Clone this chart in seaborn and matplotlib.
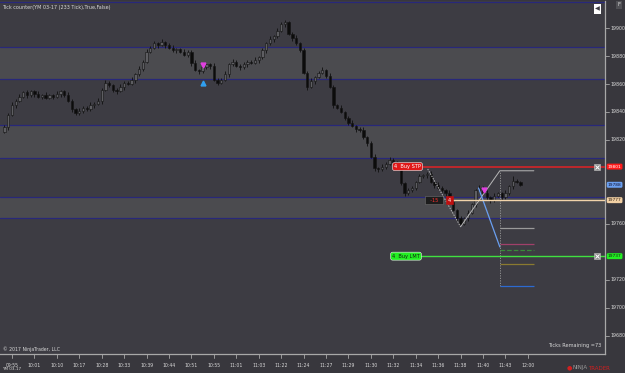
import numpy as np
import pandas as pd
import matplotlib
matplotlib.use("Agg")
import matplotlib.pyplot as plt
import seaborn as sns
from matplotlib.transforms import blended_transform_factory
from matplotlib.patches import Rectangle

# ---------------- data ----------------
closes = [
    19829, 19838, 19845, 19848, 19851, 19854, 19852, 19855, 19853, 19851,
    19852, 19850, 19852, 19851, 19853, 19855, 19852, 19848, 19842, 19839,
    19841, 19843, 19842, 19845, 19846, 19848, 19856, 19861, 19859, 19856,
    19855, 19858, 19861, 19860, 19863, 19867, 19871, 19876, 19883, 19886,
    19889, 19888, 19890, 19888, 19886, 19884, 19885, 19883, 19881, 19883,
    19875, 19870, 19869, 19872, 19874, 19873, 19863, 19861, 19863, 19867,
    19874, 19876, 19873, 19872, 19874, 19876, 19875, 19877, 19879, 19884,
    19889, 19892, 19894, 19898, 19903, 19904, 19896, 19893, 19889, 19884,
    19868, 19858, 19862, 19865, 19868, 19870, 19866, 19858, 19845, 19843,
    19840, 19836, 19832, 19830, 19828, 19827, 19822, 19818, 19808, 19800,
    19799, 19801, 19803, 19806, 19804, 19801, 19789, 19782, 19784, 19786,
    19790, 19794, 19795, 19796, 19790, 19788, 19786, 19784, 19782, 19776,
    19770, 19764, 19760, 19764, 19768, 19774, 19784, 19786, 19782, 19779,
    19777, 19780, 19782, 19779, 19782, 19787, 19791, 19790, 19788,
]
first_open = 19826
upper_wick = [
    2, 1, 2, 1, 2, 1, 2, 1, 1, 2, 1, 2, 1, 1, 2, 1, 1, 2, 1, 1,
    2, 1, 1, 2, 1, 2, 1, 2, 1, 1, 1, 2, 1, 1, 2, 1, 2, 1, 2, 1,
    2, 1, 2, 1, 1, 2, 1, 1, 2, 1, 1, 2, 1, 2, 1, 1, 2, 1, 1, 2,
    1, 2, 1, 1, 2, 1, 1, 2, 1, 2, 1, 2, 1, 2, 1, 2, 1, 1, 2, 1,
    2, 1, 2, 1, 1, 2, 1, 2, 1, 1, 2, 1, 1, 2, 1, 1, 2, 1, 1, 2,
    1, 2, 1, 2, 1, 1, 2, 1, 2, 1, 1, 2, 1, 1, 2, 1, 2, 1, 1, 2,
    1, 1, 2, 1, 2, 1, 1, 2, 1, 2, 1, 2, 1, 1, 2, 1, 3, 1, 1,
]
lower_wick = [
    1, 2, 1, 2, 1, 1, 2, 1, 2, 1, 2, 1, 1, 2, 1, 2, 1, 1, 2, 1,
    1, 2, 1, 1, 2, 1, 2, 1, 1, 2, 2, 1, 2, 1, 1, 2, 1, 2, 1, 1,
    1, 2, 1, 2, 1, 1, 2, 1, 1, 2, 2, 1, 2, 1, 1, 2, 1, 2, 1, 1,
    2, 1, 1, 2, 1, 2, 1, 1, 2, 1, 2, 1, 2, 1, 1, 2, 1, 2, 1, 1,
    1, 2, 1, 2, 1, 1, 2, 1, 2, 1, 1, 2, 1, 1, 2, 1, 1, 2, 1, 2,
    2, 1, 2, 1, 1, 2, 1, 2, 1, 1, 2, 1, 1, 2, 1, 2, 1, 1, 2, 1,
    1, 2, 1, 1, 2, 1, 2, 1, 1, 2, 2, 1, 1, 2, 1, 1, 2, 1, 1,
]
time_labels = ["09:55", "10:01", "10:10", "10:17", "10:28", "10:33", "10:39", "10:44",
               "10:51", "10:55", "11:01", "11:03", "11:22", "11:24", "11:27", "11:29",
               "11:30", "11:32", "11:34", "11:36", "11:38", "11:40", "11:43", "12:00"]
price_ticks = [19900, 19880, 19860, 19840, 19820, 19760, 19720, 19700, 19680]
band_levels = [(19863.6, 19886.4), (19807.1, 19830.7), (19764.3, 19779.3)]
line_levels = [19918.6, 19886.4, 19863.6, 19830.7, 19807.1, 19779.3, 19764.3]
stop_price = 19801
limit_price = 19737
entry_price = 19777
last_price = 19788
position_pnl = "-15"
position_qty = "4"
zigzag_x = [113.2, 122.0, 132.5, 141.6]
zigzag_y = [19799.3, 19758.0, 19798.0, 19798.0]
fib_levels = [19757.1, 19745.7, 19741.4, 19731.4, 19715.7]
fib_colors = ["#9a9a9a", "#a0406a", "#3a8a3a", "#8a7a30", "#2d6ad0"]
fib_styles = ["-", "-", "--", "-", "-"]
proj_x = [126.8, 132.5]
proj_y = [19785.7, 19743.6]
signal_down = [(53.2, 19873.5), (128.2, 19784.0)]
signal_up = [(53.2, 19860.5)]

# ---------------- style ----------------
W, H = 625, 373
BG = "#3d3c43"
FIGBG = "#38373d"
BAND = "#4b4b4f"
NAVY = "#28287a"
TXT = "#d8d8d8"

sns.set_theme(style="dark", rc={"axes.facecolor": BG, "figure.facecolor": FIGBG})
plt.rcParams["font.family"] = ["DejaVu Sans"]

fig = plt.figure(figsize=(W / 100, H / 100), dpi=100)
ax = fig.add_axes([0, (H - 354) / H, 605 / W, 353 / H])
ax.set_facecolor(BG)

n = len(closes)
opens = [first_open] + closes[:-1]
df = pd.DataFrame({"bar": np.arange(n), "open": opens, "close": closes})
df["high"] = df[["open", "close"]].max(axis=1) + np.array(upper_wick)
df["low"] = df[["open", "close"]].min(axis=1) - np.array(lower_wick)
df["up"] = df["close"] >= df["open"]

# axis limits (pixel mapping: bar i at x = 4.5 + 3.738 i)
px_per_bar = 22.43 / 6
ax.set_xlim(-4.5 / px_per_bar, (605 - 4.5) / px_per_bar)
ax.set_ylim(19667.1, 19919.3)

# bands and level lines
for lo, hi in band_levels:
    ax.axhspan(lo, hi, color=BAND, lw=0, zorder=0)
for lv in line_levels:
    ax.axhline(lv, color=NAVY, lw=0.9, zorder=1)

# candles
ax.vlines(df["bar"], df["low"], df["high"], color="#101010", lw=0.6, zorder=3)
body_bottom = df[["open", "close"]].min(axis=1)
body_h = (df["close"] - df["open"]).abs().clip(lower=0.5)
cols = np.where(df["up"], "#5e5e62", "#0c0c0c")
ax.bar(df["bar"], body_h, bottom=body_bottom, width=0.62, color=cols,
       edgecolor="#141414", linewidth=0.4, zorder=4)

# drawing tools (zigzag / fib)
zz = pd.DataFrame({"x": zigzag_x, "y": zigzag_y})
ax.plot(zz["x"][:2], zz["y"][:2], color="#b8b8b8", lw=0.7, ls=(0, (1.5, 1.2)), zorder=5)
sns.lineplot(data=zz.iloc[1:], x="x", y="y", sort=False, color="#b8b8b8", lw=0.7, ax=ax, zorder=5)
ax.vlines(zigzag_x[2], fib_levels[-1], zigzag_y[2], color="#9a9a9a", lw=0.6,
          linestyles=(0, (1.5, 1.5)), zorder=5)
for lv, c, s in zip(fib_levels, fib_colors, fib_styles):
    ax.hlines(lv, zigzag_x[2], zigzag_x[3], color=c, lw=0.9, linestyles=s, zorder=5)
pj = pd.DataFrame({"x": proj_x, "y": proj_y})
sns.lineplot(data=pj, x="x", y="y", sort=False, color="#6a9ff0", lw=0.9, ax=ax, zorder=6)

# signal arrows
for x, y in signal_down:
    ax.plot(x, y, marker="v", color="#e040e0", ms=3.5, zorder=7)
for x, y in signal_up:
    ax.plot(x, y, marker="^", color="#30a0f0", ms=3.5, zorder=7)

ax.set_xlabel("")
ax.set_ylabel("")

# order lines
def bar_of(px):
    return (px - 4.5) / px_per_bar

ax.hlines(stop_price, bar_of(419), bar_of(605), color="#c8262a", lw=1.3, zorder=6)
ax.hlines(limit_price, bar_of(419), bar_of(605), color="#40e040", lw=1.0, zorder=6)
ax.hlines(entry_price, bar_of(452), bar_of(605), color="#f2d4aa", lw=1.0, zorder=6)

ax.text(bar_of(407.5), stop_price, "4  Buy STP", color="white", fontsize=3.6, ha="center",
        va="center", zorder=9,
        bbox=dict(boxstyle="round,pad=0.3,rounding_size=0.4", fc="#e01818", ec="#f0f0f0", lw=0.4))
ax.text(bar_of(406), limit_price, "4  Buy LMT", color="#102010", fontsize=3.6, ha="center",
        va="center", zorder=9,
        bbox=dict(boxstyle="round,pad=0.3,rounding_size=0.4", fc="#22ee22", ec="#f0f0f0", lw=0.4))
ax.text(bar_of(434), entry_price, "  " + position_pnl + "  ", color="#ff3030", fontsize=3.6,
        ha="center", va="center", zorder=9,
        bbox=dict(boxstyle="square,pad=0.35", fc="#1c1c1c", ec="#707070", lw=0.4))
ax.text(bar_of(449.5), entry_price, position_qty, color="white", fontsize=3.6, ha="center",
        va="center", zorder=10,
        bbox=dict(boxstyle="square,pad=0.35", fc="#c01010", ec="#c01010", lw=0.4))

# close buttons
for p in (stop_price, limit_price):
    ax.plot(bar_of(597.5), p, marker="s", ms=5, mfc="#8a8a8a", mec="#d0d0d0", mew=0.4, zorder=9,
            clip_on=False)
    ax.plot(bar_of(597.5), p, marker="x", ms=3, mec="white", mew=0.7, zorder=10, clip_on=False)

# axis appearance
ax.set_xticks([])
ax.set_yticks([])
for s in ("top", "left"):
    ax.spines[s].set_visible(False)
for s in ("right", "bottom"):
    ax.spines[s].set_visible(True)
    ax.spines[s].set_color("#a8a8a8")
    ax.spines[s].set_linewidth(0.9)

# right price scale (ticks + labels)
tr = blended_transform_factory(ax.transAxes, ax.transData)
for p in price_ticks:
    ax.plot([1.0, 1.006], [p, p], color="#a8a8a8", lw=0.6, transform=tr, clip_on=False)
    ax.text(1.009, p, str(p), color=TXT, fontsize=3.4, va="center", ha="left",
            transform=tr, clip_on=False)

def axis_badge(p, text, fc, tc):
    ax.text(1.0045, p, text, color=tc, fontsize=3.2, va="center", ha="left", transform=tr,
            clip_on=False, zorder=12,
            bbox=dict(boxstyle="round,pad=0.22,rounding_size=0.3", fc=fc, ec="none"))

axis_badge(stop_price, str(stop_price), "#ff1a1a", "white")
axis_badge(last_price, str(last_price), "#6a9ff0", "#101030")
axis_badge(entry_price, str(entry_price), "#f2d0a4", "#302010")
axis_badge(limit_price, str(limit_price), "#22ee22", "#102010")

# bottom time scale
trx = blended_transform_factory(ax.transData, ax.transAxes)
for k, lab in enumerate(time_labels):
    xb = 2 + 6 * k
    ax.plot([xb, xb], [0, -0.012], color="#a8a8a8", lw=0.6, transform=trx, clip_on=False)
    ax.text(xb, -0.026, lab, color=TXT, fontsize=3.3, ha="center", va="top",
            transform=trx, clip_on=False)

# texts
def ftext(x, y, s, **kw):
    fig.text(x / W, 1 - y / H, s, **kw)

ftext(2, 7, "Tick counter(YM 03-17 (233 Tick),True,False)", color=TXT, fontsize=3.5, va="center")
ftext(3, 349, "\u00a9 2017 NinjaTrader, LLC", color=TXT, fontsize=3.3, va="center")
ftext(601, 345, "Ticks Remaining =73", color=TXT, fontsize=3.6, va="center", ha="right")
ftext(2, 369, "YM 03-17", color=TXT, fontsize=3.0, va="center")
ftext(588, 368, "NINJA", color="#9a9a9a", fontsize=4.0, va="center", ha="right")
ftext(588, 368, "TRADER", color="#d02020", fontsize=4.0, va="center", ha="left")
ftext(569, 368, "\u25cf", color="#d02020", fontsize=4.5, va="center", ha="center")
fig.add_artist(Rectangle((594 / W, 1 - 14 / H), 7 / W, 10 / H, transform=fig.transFigure,
                         fc="white", ec="none"))
ftext(597.5, 9, "\u25c0", color="#3d3c43", fontsize=4.5, va="center", ha="center")
ftext(619, 5, "F", color=TXT, fontsize=4.0, va="center", ha="center",
      bbox=dict(boxstyle="square,pad=0.2", fc="#505055", ec="none"))

fig.savefig("out.png", dpi=100, facecolor=FIGBG)
